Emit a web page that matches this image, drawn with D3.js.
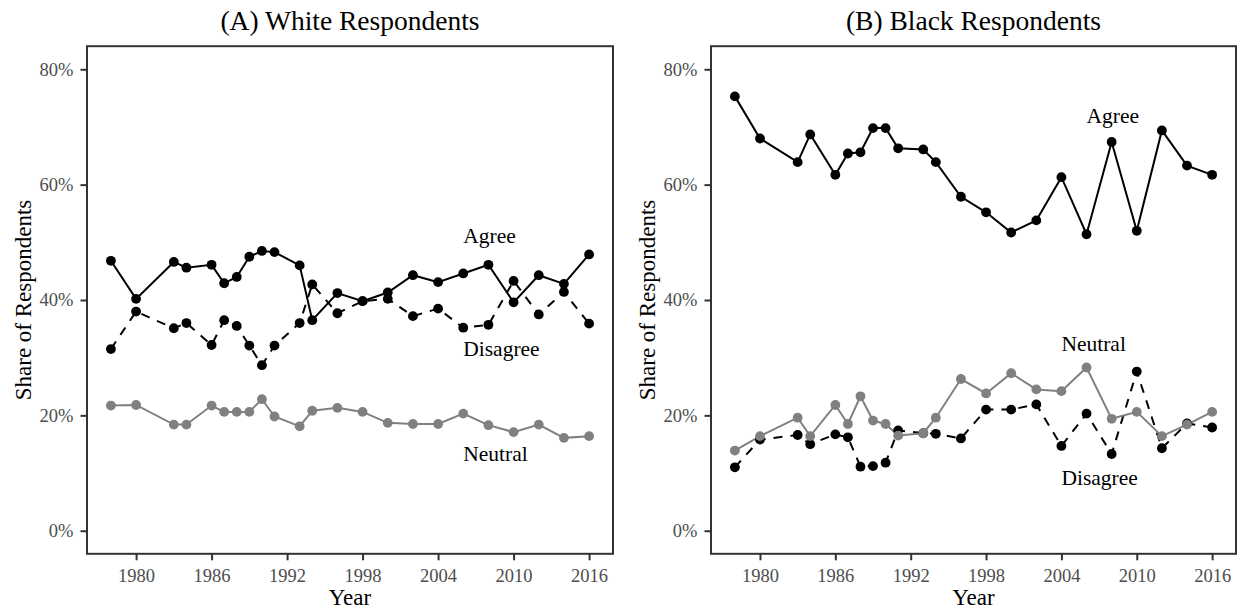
<!DOCTYPE html>
<html>
<head>
<meta charset="utf-8">
<script src="https://cdn.jsdelivr.net/npm/d3@7"></script>
<style>
  html, body { margin: 0; padding: 0; background: #fff; }
  svg { display: block; font-family: "Liberation Serif", "Times New Roman", serif; }
</style>
</head>
<body>
<svg id="chart" width="1239" height="610"></svg>
<script>
// Survey years
const years = [1978, 1980, 1983, 1984, 1986, 1987, 1988, 1989, 1990, 1991, 1993, 1994,
               1996, 1998, 2000, 2002, 2004, 2006, 2008, 2010, 2012, 2014, 2016];

// Shares (%) among white respondents
const whiteAgree    = [46.8, 40.2, 46.6, 45.6, 46.1, 42.9, 44.0, 47.5, 48.5, 48.3, 46.0, 36.5,
                       41.2, 39.8, 41.3, 44.3, 43.1, 44.6, 46.1, 39.6, 44.3, 42.8, 47.9];
const whiteDisagree = [31.5, 38.0, 35.1, 36.0, 32.2, 36.5, 35.5, 32.1, 28.7, 32.1, 36.0, 42.7,
                       37.7, 39.8, 40.2, 37.2, 38.5, 35.2, 35.7, 43.3, 37.5, 41.4, 35.9];
const whiteNeutral  = [21.7, 21.8, 18.4, 18.4, 21.7, 20.6, 20.6, 20.6, 22.8, 19.8, 18.1, 20.8,
                       21.3, 20.6, 18.7, 18.5, 18.5, 20.3, 18.3, 17.1, 18.4, 16.1, 16.4];

// Shares (%) among black respondents
const blackAgree    = [75.3, 68.0, 63.9, 68.7, 61.7, 65.4, 65.6, 69.8, 69.8, 66.3, 66.1, 63.9,
                       57.9, 55.2, 51.7, 53.8, 61.3, 51.4, 67.4, 52.0, 69.4, 63.3, 61.7];
const blackDisagree = [11.0, 15.8, 16.6, 15.0, 16.7, 16.2, 11.1, 11.2, 11.8, 17.4, 16.9, 16.8,
                       16.0, 21.0, 21.0, 21.9, 14.7, 20.3, 13.3, 27.6, 14.3, 18.6, 17.9];
const blackNeutral  = [13.9, 16.4, 19.6, 16.4, 21.8, 18.5, 23.3, 19.1, 18.5, 16.5, 16.9, 19.6,
                       26.3, 23.8, 27.3, 24.5, 24.2, 28.3, 19.4, 20.6, 16.4, 18.4, 20.6];

// Axis ticks
const xTicks = [1980, 1986, 1992, 1998, 2004, 2010, 2016];
const yTicks = [0, 20, 40, 60, 80];

// Direct labels: [text, year, share]
const whiteLabels = [["Agree", 2006, 51], ["Disagree", 2006, 31.4], ["Neutral", 2006, 13.3]];
const blackLabels = [["Agree", 2006, 71.8], ["Neutral", 2004, 32.3], ["Disagree", 2004, 9.1]];

const panels = [
  { title: "(A) White Respondents", x0: 87, x1: 613,
    series: { Agree: whiteAgree, Disagree: whiteDisagree, Neutral: whiteNeutral },
    labels: whiteLabels },
  { title: "(B) Black Respondents", x0: 711, x1: 1236,
    series: { Agree: blackAgree, Disagree: blackDisagree, Neutral: blackNeutral },
    labels: blackLabels }
];

const styles = {
  Agree:    { color: "#000000", dash: null },
  Disagree: { color: "#000000", dash: "9,8" },
  Neutral:  { color: "#808080", dash: null }
};
const order = ["Agree", "Disagree", "Neutral"];

const svg = d3.select("#chart");
const yTop = 46.2, yBottom = 553.8;
const axisGrey = "#333333";

panels.forEach(p => {
  const x = d3.scaleLinear().domain([1976.1, 2017.9]).range([p.x0, p.x1]);
  const y = d3.scaleLinear().domain([-4, 84]).range([yBottom, yTop]);
  const g = svg.append("g");

  // Title
  g.append("text")
    .attr("x", (p.x0 + p.x1) / 2).attr("y", 30)
    .attr("text-anchor", "middle")
    .attr("font-size", 27.5).attr("fill", "#000")
    .text(p.title);

  // Axes
  const xAxis = g.append("g")
    .attr("transform", `translate(0,${yBottom})`)
    .call(d3.axisBottom(x).tickValues(xTicks).tickFormat(d3.format("d")).tickSize(6.5).tickPadding(4));
  const yAxis = g.append("g")
    .attr("transform", `translate(${p.x0},0)`)
    .call(d3.axisLeft(y).tickValues(yTicks).tickFormat(d => d + "%").tickSize(6.5).tickPadding(7));
  [xAxis, yAxis].forEach(a => {
    a.select(".domain").remove();
    a.selectAll(".tick line").attr("stroke", axisGrey).attr("stroke-width", 2);
    a.selectAll(".tick text")
      .attr("fill", "#4d4d4d")
      .attr("font-size", 18.5)
      .attr("font-family", "Liberation Serif, Times New Roman, serif");
  });
  xAxis.selectAll(".tick text").attr("dy", "0.95em");

  // Lines (all series), then points (all series)
  const line = d3.line().x((d, i) => x(years[i])).y(d => y(d));
  order.forEach(k => {
    g.append("path")
      .datum(p.series[k])
      .attr("d", line)
      .attr("fill", "none")
      .attr("stroke", styles[k].color)
      .attr("stroke-width", 2)
      .attr("stroke-dasharray", styles[k].dash);
  });
  order.forEach(k => {
    g.append("g").selectAll("circle")
      .data(p.series[k])
      .join("circle")
      .attr("cx", (d, i) => x(years[i]))
      .attr("cy", d => y(d))
      .attr("r", 4.9)
      .attr("fill", styles[k].color);
  });

  // Direct series labels
  g.append("g").selectAll("text")
    .data(p.labels)
    .join("text")
    .attr("x", d => x(d[1]))
    .attr("y", d => y(d[2]))
    .attr("dy", "0.32em")
    .attr("font-size", 21.5)
    .attr("fill", "#000")
    .text(d => d[0]);

  // Panel border
  g.append("rect")
    .attr("x", p.x0).attr("y", yTop)
    .attr("width", p.x1 - p.x0).attr("height", yBottom - yTop)
    .attr("fill", "none").attr("stroke", axisGrey).attr("stroke-width", 2);

  // Axis titles
  g.append("text")
    .attr("x", (p.x0 + p.x1) / 2).attr("y", 605)
    .attr("text-anchor", "middle")
    .attr("font-size", 23).attr("fill", "#000")
    .text("Year");
  g.append("text")
    .attr("transform", `translate(${p.x0 - 64},${(yTop + yBottom) / 2}) rotate(-90)`)
    .attr("text-anchor", "middle")
    .attr("dy", "0.35em")
    .attr("font-size", 23).attr("fill", "#000")
    .text("Share of Respondents");
});
</script>
</body>
</html>
